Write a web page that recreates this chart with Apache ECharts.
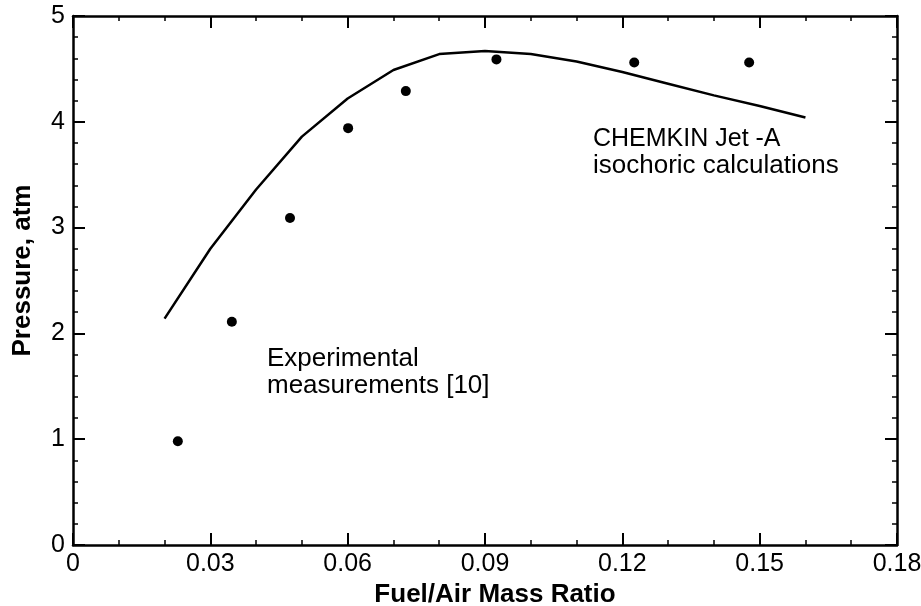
<!DOCTYPE html>
<html>
<head>
<meta charset="utf-8">
<script src="https://cdn.jsdelivr.net/npm/echarts@6/dist/echarts.min.js"></script>
<style>
  html, body { margin: 0; padding: 0; background: #fff; }
  #chart { width: 921px; height: 606px; }
</style>
</head>
<body>
<div id="chart"></div>
<script>
// Measured peak pressure (experimental points)
const ratioMeasured = [0.0229, 0.0347, 0.0474, 0.0601, 0.0727, 0.0925, 0.1226, 0.1477];
const pressureMeasured = [0.98, 2.11, 3.09, 3.94, 4.29, 4.59, 4.56, 4.56];

// CHEMKIN Jet-A isochoric calculation
const ratioModel = [0.02, 0.03, 0.04, 0.05, 0.06, 0.07, 0.08, 0.09, 0.10, 0.11, 0.12, 0.13, 0.14, 0.15, 0.16];
const pressureModel = [2.14, 2.80, 3.36, 3.86, 4.22, 4.49, 4.64, 4.67, 4.64, 4.57, 4.47, 4.36, 4.25, 4.15, 4.04];

const FONT = '"Liberation Sans", Arial, Helvetica, sans-serif';

const chart = echarts.init(document.getElementById('chart'), null, { renderer: 'canvas' });

const axisCommon = {
  type: 'value',
  axisLine: { show: true, onZero: false, lineStyle: { color: '#000', width: 2.5 } },
  axisTick: { show: true, inside: true, length: 12, lineStyle: { color: '#000', width: 2 } },
  splitLine: { show: false }
};

chart.setOption({
  backgroundColor: '#fff',
  animation: false,
  grid: { left: 73, right: 24, top: 16, bottom: 61, show: false, containLabel: false, outerBoundsMode: 'none' },
  xAxis: [
    Object.assign({}, axisCommon, {
      position: 'bottom',
      min: 0, max: 0.18, interval: 0.03,
      minorTick: { show: true, splitNumber: 3, length: 5, lineStyle: { color: '#000', width: 1.5 } },
      axisLabel: { color: '#000', fontSize: 25, fontFamily: FONT, margin: 7 },
      name: 'Fuel/Air Mass Ratio',
      nameLocation: 'middle',
      nameGap: 37,
      nameTextStyle: { color: '#000', fontSize: 26, fontWeight: 'bold', fontFamily: FONT, padding: [0, 0, 0, 20] }
    }),
    Object.assign({}, axisCommon, {
      position: 'top',
      min: 0, max: 0.18, interval: 0.03,
      minorTick: { show: true, splitNumber: 3, length: 5, lineStyle: { color: '#000', width: 1.5 } },
      axisLabel: { show: false }
    })
  ],
  yAxis: [
    Object.assign({}, axisCommon, {
      position: 'left',
      min: 0, max: 5, interval: 1,
      minorTick: { show: true, splitNumber: 5, length: 5, lineStyle: { color: '#000', width: 1.5 } },
      axisLabel: { color: '#000', fontSize: 25, fontFamily: FONT, margin: 8 },
      name: 'Pressure, atm',
      nameLocation: 'middle',
      nameGap: 37,
      nameTextStyle: { color: '#000', fontSize: 26, fontWeight: 'bold', fontFamily: FONT, padding: [0, 0, 0, 20] }
    }),
    Object.assign({}, axisCommon, {
      position: 'right',
      min: 0, max: 5, interval: 1,
      minorTick: { show: true, splitNumber: 5, length: 5, lineStyle: { color: '#000', width: 1.5 } },
      axisLabel: { show: false }
    })
  ],
  series: [
    {
      name: 'CHEMKIN Jet-A',
      type: 'line',
      xAxisIndex: 0, yAxisIndex: 0,
      data: ratioModel.map((x, i) => [x, pressureModel[i]]),
      showSymbol: false,
      symbol: 'none',
      lineStyle: { color: '#000', width: 2.5 },
      z: 3
    },
    {
      name: 'Experimental',
      type: 'scatter',
      xAxisIndex: 0, yAxisIndex: 0,
      data: ratioMeasured.map((x, i) => [x, pressureMeasured[i]]),
      symbol: 'circle',
      symbolSize: 10,
      itemStyle: { color: '#000', opacity: 1 },
      z: 4
    }
  ],
  graphic: [
    { type: 'text', left: 593, top: 127, style: { text: 'CHEMKIN Jet -A', font: '25px ' + FONT, fill: '#000', verticalAlign: 'middle' } },
    { type: 'text', left: 593, top: 153, style: { text: 'isochoric calculations', font: '26px ' + FONT, fill: '#000', verticalAlign: 'middle' } },
    { type: 'text', left: 267, top: 346, style: { text: 'Experimental', font: '26px ' + FONT, fill: '#000', verticalAlign: 'middle' } },
    { type: 'text', left: 267, top: 373, style: { text: 'measurements [10]', font: '26px ' + FONT, fill: '#000', verticalAlign: 'middle' } }
  ]
});
</script>
</body>
</html>
